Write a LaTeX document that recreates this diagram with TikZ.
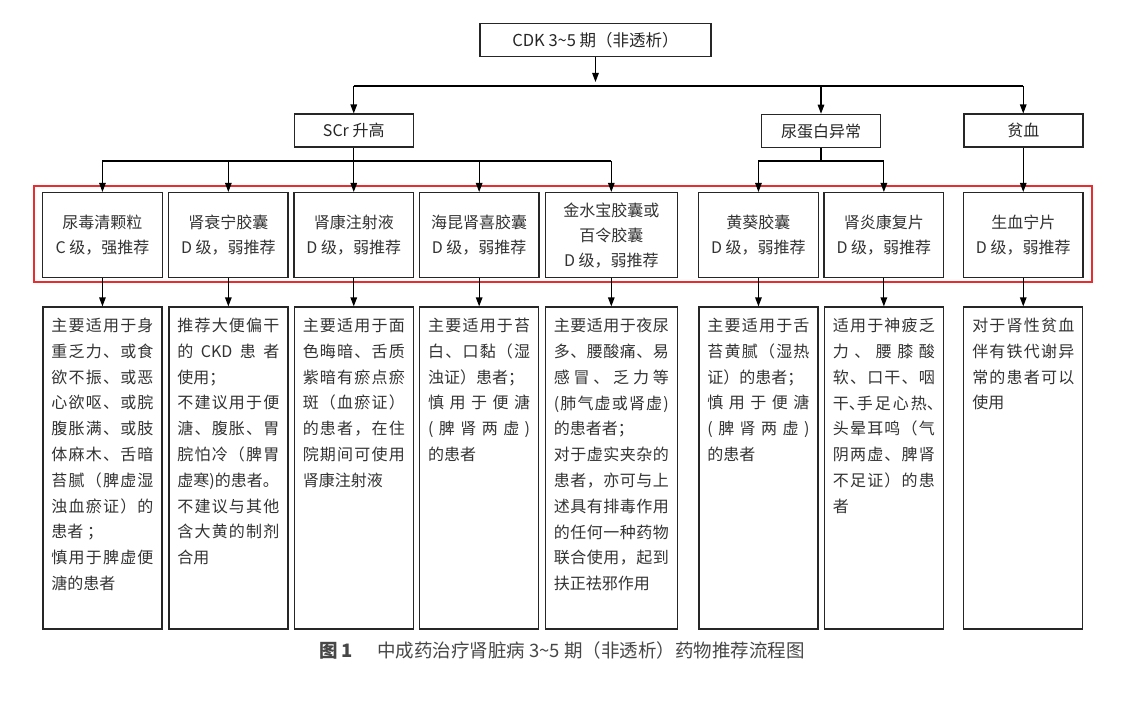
\documentclass[tikz,border=0pt]{standalone}
\usepackage{fontspec}
\setmainfont{Noto Sans CJK SC}
\usepackage{tikz}
\usetikzlibrary{positioning, arrows.meta, graphs}
\usepackage{xcolor}
\definecolor{framered}{RGB}{232,44,48}

% 汉字之间可伸缩, 使说明文字两端对齐
\newXeTeXintercharclass\hanclass
\newcount\hanc
\newcommand{\sethan}[2]{\hanc=#1\relax
    \loop \XeTeXcharclass\hanc=\hanclass
    \ifnum\hanc<#2\relax \advance\hanc by 1 \repeat}
\sethan{"4E00}{"9FFF}
\sethan{"3000}{"303F}
\sethan{"FF00}{"FFEF}
\XeTeXcharclass`(=\hanclass
\XeTeXcharclass`)=\hanclass
\XeTeXinterchartoks\hanclass\hanclass={\hskip 0pt plus 0.4em\relax}
\XeTeXinterchartokenstate=1

\newcommand{\br}{\linebreak}
\newcommand{\desc}[2][102pt]{\parbox[t][300pt][t]{#1}{\sloppy #2}}
\newcommand{\hdun}{\makebox[.5em][l]{、}}

\begin{document}
\begin{tikzpicture}[x=1pt, y=-1pt, node distance=7pt,
    >={Triangle[length=9pt,width=6.5pt]},
    font=\fontsize{16}{25}\selectfont,
    headbox/.style={draw=black!85, line width=1.5pt, text=black!85, minimum height=33pt, minimum width=119pt},
    drugbox/.style={draw=black!85, line width=1.4pt, text=black!80, minimum height=85pt, minimum width=119.5pt, align=center, inner sep=0pt},
    descbox/.style={draw=black!85, line width=1.4pt, text=black!80, inner xsep=8.5pt, inner ysep=11pt, font=\fontsize{16}{25.8}\selectfont},
    arrow/.style={->, line width=1.2pt}]
    \path[use as bounding box, fill=white] (0,0) rectangle (1131,703);

    % 药物
    \node[drugbox, anchor=north west] (d1) at (42,192) {尿毒清颗粒\\C 级，强推荐};
    \node[drugbox, right=5pt of d1] (d2) {肾衰宁胶囊\\D 级，弱推荐};
    \node[drugbox, right=4.5pt of d2] (d3) {肾康注射液\\D 级，弱推荐};
    \node[drugbox, right=4.5pt of d3] (d4) {海昆肾喜胶囊\\D 级，弱推荐};
    \node[drugbox, right=5pt of d4, minimum width=132pt] (d5) {金水宝胶囊或\\百令胶囊\\D 级，弱推荐};
    \node[drugbox, right=20pt of d5] (d6) {黄葵胶囊\\D 级，弱推荐};
    \node[drugbox, right=4.5pt of d6] (d7) {肾炎康复片\\D 级，弱推荐};
    \node[drugbox, right=18.5pt of d7] (d8) {生血宁片\\D 级，弱推荐};

    \draw[framered, line width=2pt] (34,186) rectangle (1092,282);

    % 上两层
    \node[headbox, minimum width=231pt, font=\fontsize{16.5}{20}\selectfont] (cdk) at (595.5,40) {CDK 3\textasciitilde5 期（非透析）};
    \node[headbox, above=44pt of d3] (scr) {SCr 升高};
    \node[headbox] (urine) at (821,131) {尿蛋白异常};
    \node[headbox, above=44pt of d8] (anemia) {贫血};

    % 说明
    \node[descbox, below=28pt of d1] (t1) {\desc{主要适用于身\br
        重乏力、或食\br
        欲不振、或恶\br
        心欲呕、或脘\br
        腹胀满、或肢\br
        体麻木、舌暗\br
        苔腻（脾虚湿\br
        浊血瘀证）的\br
        患者 ；\\
        慎用于脾虚便\br
        溏的患者}};
    \node[descbox, below=28pt of d2] (t2) {\desc{推荐大便偏干\br
        的 CKD 患 者\br
        使用；\\
        不建议用于便\br
        溏、腹胀、胃\br
        脘怕冷（脾胃\br
        虚寒)的患者。\\
        不建议与其他\br
        含大黄的制剂\br
        合用}};
    \node[descbox, below=28pt of d3] (t3) {\desc{主要适用于面\br
        色晦暗、舌质\br
        紫暗有瘀点瘀\br
        斑（血瘀证）\br
        的患者，在住\br
        院期间可使用\br
        肾康注射液}};
    \node[descbox, below=28pt of d4] (t4) {\desc{主要适用于苔\br
        白、口黏（湿\br
        浊证）患者；\\
        慎用于便溏\br
        (脾肾两虚)\br
        的患者}};
    \node[descbox, below=28pt of d5] (t5) {\desc[115pt]{主要适用于夜尿\br
        多、腰酸痛、易\br
        感冒、乏力等\br
        (肺气虚或肾虚)\br
        的患者者；\\
        对于虚实夹杂的\br
        患者，亦可与上\br
        述具有排毒作用\br
        的任何一种药物\br
        联合使用，起到\br
        扶正祛邪作用}};
    \node[descbox, below=28pt of d6] (t6) {\desc{主要适用于舌\br
        苔黄腻（湿热\br
        证）的患者；\\
        慎用于便溏\br
        (脾肾两虚)\br
        的患者}};
    \node[descbox, below=28pt of d7] (t7) {\desc{适用于神疲乏\br
        力、腰膝酸\br
        软、口干、咽\br
        干\hdun 手足心热\hdun\br
        头晕耳鸣（气\br
        阴两虚、脾肾\br
        不足证）的患\br
        者}};
    \node[descbox, below=28pt of d8] (t8) {\desc{对于肾性贫血\br
        伴有铁代谢异\br
        常的患者可以\br
        使用}};

    \node[text=black!72, font=\fontsize{18.5}{22}\selectfont] (caption) at (562,650)
        {\textbf{图 1}\hspace{24pt}中成药治疗肾脏病 3\textasciitilde5 期（非透析）药物推荐流程图};

    % 连线
    \coordinate (bus1) at (595.5,86);
    \coordinate (bus2) at (353.5,161);
    \coordinate (bus3) at (821,161);
    \draw[arrow, shorten >=4pt] (cdk) -- (bus1);
    \draw[line width=1.2pt] (bus1 -| scr.north) -- (bus1 -| anemia.north);
    \foreach \n in {scr, urine, anemia}
        \draw[arrow] (bus1 -| \n.north) -- (\n.north);

    \draw[line width=1.2pt] (scr) -- (bus2 -| scr.south);
    \draw[line width=1.2pt] (bus2 -| d1.north) -- (bus2 -| d5.north);
    \foreach \n in {d1, d2, d3, d4, d5}
        \draw[arrow] (bus2 -| \n.north) -- (\n.north);

    \draw[line width=1.2pt] (urine) -- (bus3);
    \draw[line width=1.2pt] (bus3 -| d6.north) -- (bus3 -| d7.north);
    \foreach \n in {d6, d7}
        \draw[arrow] (bus3 -| \n.north) -- (\n.north);

    \draw[arrow] (anemia) -- (d8);

    \graph[edges={line width=1.2pt}]{
    (d1) -> (t1); (d2) -> (t2); (d3) -> (t3); (d4) -> (t4);
    (d5) -> (t5); (d6) -> (t6); (d7) -> (t7); (d8) -> (t8);
    };
\end{tikzpicture}
\end{document}
